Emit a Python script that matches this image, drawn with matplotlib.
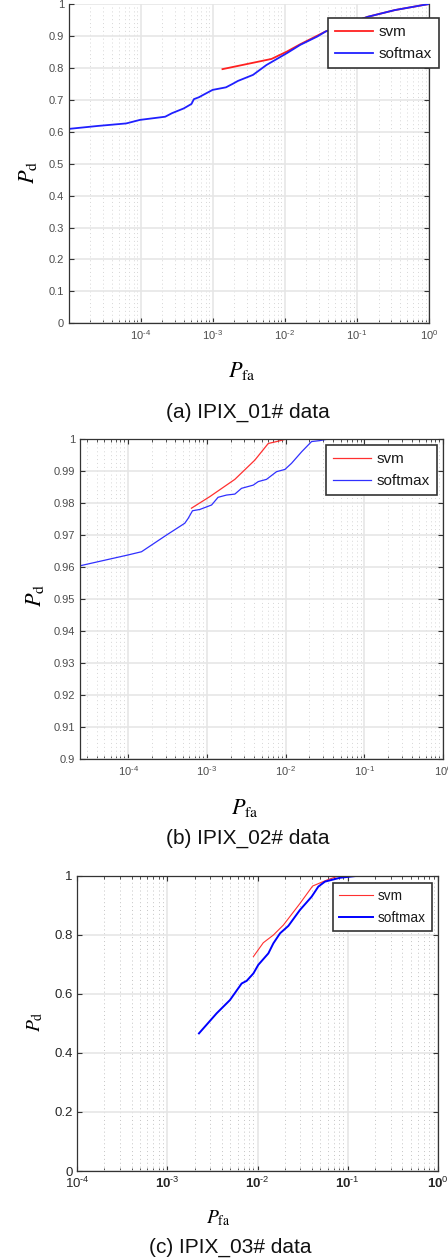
import matplotlib
matplotlib.use("Agg")
import matplotlib.pyplot as plt
from matplotlib.ticker import FixedLocator, LogLocator, NullFormatter

plt.rcParams["font.family"] = ["Liberation Sans", "DejaVu Sans"]
plt.rcParams["mathtext.fontset"] = "custom"
plt.rcParams["mathtext.rm"] = "Liberation Sans"
plt.rcParams["mathtext.it"] = "Liberation Sans:italic"
plt.rcParams["mathtext.bf"] = "Liberation Sans:bold"

# (a) IPIX_01#
a_soft_pfa = [9.3e-6, 2.54e-5, 6.35e-5, 9.8e-5, 2.2e-4, 2.73e-4, 3.98e-4, 5.09e-4,
              5.5e-4, 6.46e-4, 7.36e-4, 1.0e-3, 1.53e-3, 1.9e-3, 2.24e-3, 3.63e-3,
              5.58e-3, 1.07e-2, 1.64e-2, 2.82e-2, 3.69e-2, 0.142, 0.337, 0.84, 1.0]
a_soft_pd = [0.608, 0.618, 0.626, 0.637, 0.647, 0.658, 0.673, 0.687,
             0.702, 0.708, 0.715, 0.731, 0.739, 0.750, 0.759, 0.778,
             0.809, 0.846, 0.872, 0.898, 0.914, 0.960, 0.981, 0.997, 1.0]
a_svm_pfa = [1.37e-3, 6.56e-3, 1.07e-2, 1.64e-2, 3.69e-2, 0.142, 0.337, 0.84, 1.0]
a_svm_pd = [0.796, 0.828, 0.851, 0.874, 0.914, 0.960, 0.981, 0.997, 1.0]

# (b) IPIX_02#
b_soft_pfa = [2.43e-5, 1.0e-4, 1.48e-4, 3.07e-4, 5.25e-4, 5.79e-4, 6.58e-4, 8.15e-4,
              1.15e-3, 1.39e-3, 1.78e-3, 2.27e-3, 2.76e-3, 3.89e-3, 4.5e-3, 5.73e-3,
              7.69e-3, 9.82e-3, 1.19e-2, 1.6e-2, 2.14e-2, 2.73e-2, 3.48e-2, 1.0]
b_soft_pd = [0.9604, 0.9638, 0.9648, 0.9700, 0.9737, 0.9752, 0.9776, 0.9780,
             0.9794, 0.9818, 0.9825, 0.9828, 0.9846, 0.9856, 0.9867, 0.9874,
             0.9898, 0.9905, 0.9924, 0.9960, 0.9992, 0.9995, 1.0, 1.0]
b_svm_pfa = [6.38e-4, 1.09e-3, 2.27e-3, 4.07e-3, 6.03e-3, 7.69e-3, 1.03e-2, 1.0]
b_svm_pd = [0.9784, 0.9820, 0.9874, 0.9934, 0.9986, 0.9992, 1.0, 1.0]

# (c) IPIX_03#
c_soft_pfa = [2.24e-3, 3.52e-3, 4.95e-3, 6.67e-3, 7.59e-3, 9.0e-3, 1.02e-2, 1.32e-2,
              1.5e-2, 1.78e-2, 2.2e-2, 2.96e-2, 3.99e-2, 4.73e-2, 5.61e-2, 8.24e-2,
              0.132, 1.0]
c_soft_pd = [0.466, 0.534, 0.579, 0.635, 0.644, 0.669, 0.698, 0.737,
             0.771, 0.805, 0.830, 0.884, 0.929, 0.963, 0.980, 0.993,
             1.0, 1.0]
c_svm_pfa = [9.0e-3, 1.16e-2, 1.5e-2, 1.94e-2, 2.96e-2, 4.09e-2, 5.86e-2, 7.57e-2, 9.77e-2, 1.0]
c_svm_pd = [0.726, 0.773, 0.799, 0.833, 0.906, 0.965, 0.985, 0.997, 1.0, 1.0]

x_ticks = [1e-4, 1e-3, 1e-2, 1e-1, 1]
x_ticklabels = ["10$^{-4}$", "10$^{-3}$", "10$^{-2}$", "10$^{-1}$", "10$^{0}$"]
a_yticks = [0, 0.1, 0.2, 0.3, 0.4, 0.5, 0.6, 0.7, 0.8, 0.9, 1]
b_yticks = [0.9, 0.91, 0.92, 0.93, 0.94, 0.95, 0.96, 0.97, 0.98, 0.99, 1]
c_yticks = [0, 0.2, 0.4, 0.6, 0.8, 1]

W, H = 448, 1260
fig = plt.figure(figsize=(W / 100, H / 100), dpi=100)


def box(l, t, r, b):
    return [l / W, 1 - b / H, (r - l) / W, (b - t) / H]


def setup(ax, xlim, ylim, yticks, fs, tcol, minor_grid_col):
    ax.set_xscale("log")
    ax.set_xlim(*xlim)
    ax.set_ylim(*ylim)
    ax.xaxis.set_major_locator(FixedLocator(x_ticks))
    ax.xaxis.set_minor_locator(LogLocator(base=10, subs=range(2, 10), numticks=20))
    ax.xaxis.set_minor_formatter(NullFormatter())
    ax.set_xticklabels([t.replace("-", "\u2010") for t in x_ticklabels])
    ax.set_yticks(yticks)
    ax.set_yticklabels(["%g" % v for v in yticks])
    ax.grid(which="major", color="#e6e6e6", linewidth=1.2)
    ax.grid(which="minor", axis="x", color=minor_grid_col, linestyle=(0, (1, 3)), linewidth=0.7)
    ax.set_axisbelow(True)
    ax.tick_params(which="both", direction="in", top=True, right=True,
                   labelsize=fs, labelcolor=tcol, color="#333333")
    ax.tick_params(which="major", length=3.5, width=0.8)
    ax.tick_params(which="minor", length=2, width=0.6)
    for s in ax.spines.values():
        s.set_color("#333333")
        s.set_linewidth(0.9)


def legend(ax, x, y, fs):
    lg = ax.legend(loc="upper left", bbox_to_anchor=(x / W, 1 - y / H),
                   bbox_transform=fig.transFigure, borderaxespad=0, fontsize=fs,
                   fancybox=False, framealpha=1, edgecolor="#333333",
                   handlelength=2.5, handletextpad=0.35, labelspacing=0.55,
                   borderpad=0.45)
    lg.get_frame().set_linewidth(1.2)
    for t in lg.get_texts():
        t.set_color("#1a1a1a")


def labels(ax, xl_pos, yl_pos, fs):
    fig.text(xl_pos[0] / W, 1 - xl_pos[1] / H, r"$P_{\mathrm{fa}}$", fontsize=fs,
             ha="center", va="center", math_fontfamily="stix")
    fig.text(yl_pos[0] / W, 1 - yl_pos[1] / H, r"$P_{\mathrm{d}}$", fontsize=fs,
             ha="center", va="center", rotation=90, math_fontfamily="stix")


# ---- (a)
ax1 = fig.add_axes(box(69, 4, 429, 323.3))
setup(ax1, (1.02e-5, 1), (0, 1), a_yticks, 8, "#4d4d4d", "#d6d6d6")
ax1.spines["top"].set_visible(False)
ax1.tick_params(which="both", top=False)
ax1.plot(a_svm_pfa, a_svm_pd, color="#ff2020", lw=1.3, label="svm")
ax1.plot(a_soft_pfa, a_soft_pd, color="#2020ff", lw=1.3, label="softmax")
legend(ax1, 328, 18, 11)
labels(ax1, (242, 371), (28, 172), 16)
fig.text(248 / W, 1 - 412 / H, "(a) IPIX_01# data", fontsize=15, ha="center", va="center",
         color="#111111")

# ---- (b)
ax2 = fig.add_axes(box(80, 439, 443, 759.3))
setup(ax2, (2.45e-5, 1), (0.9, 1), b_yticks, 8, "#4d4d4d", "#d6d6d6")
ax2.plot(b_svm_pfa, b_svm_pd, color="#ff3030", lw=0.9, label="svm")
ax2.plot(b_soft_pfa, b_soft_pd, color="#3030ff", lw=0.9, label="softmax")
legend(ax2, 326, 445, 11)
labels(ax2, (245, 808), (35, 595), 16)
fig.text(248 / W, 1 - 838 / H, "(b) IPIX_02# data", fontsize=15, ha="center", va="center",
         color="#111111")

# ---- (c)
ax3 = fig.add_axes(box(77.3, 875.7, 437.7, 1171))
setup(ax3, (1e-4, 1), (0, 1), c_yticks, 9.5, "#262626", "#c4c4c4")
for i, t in enumerate(ax3.get_xticklabels()):
    if i > 0:
        t.set_fontweight("bold")
ax3.plot(c_svm_pfa, c_svm_pd, color="#ff3030", lw=0.8, label="svm")
ax3.plot(c_soft_pfa, c_soft_pd, color="#0000ff", lw=1.4, label="softmax")
legend(ax3, 333, 883, 9.8)
labels(ax3, (218, 1218), (35, 1022), 14)
fig.text(230 / W, 1 - 1247 / H, "(c) IPIX_03# data", fontsize=15, ha="center", va="center",
         color="#111111")

fig.savefig("out.png", dpi=100)
